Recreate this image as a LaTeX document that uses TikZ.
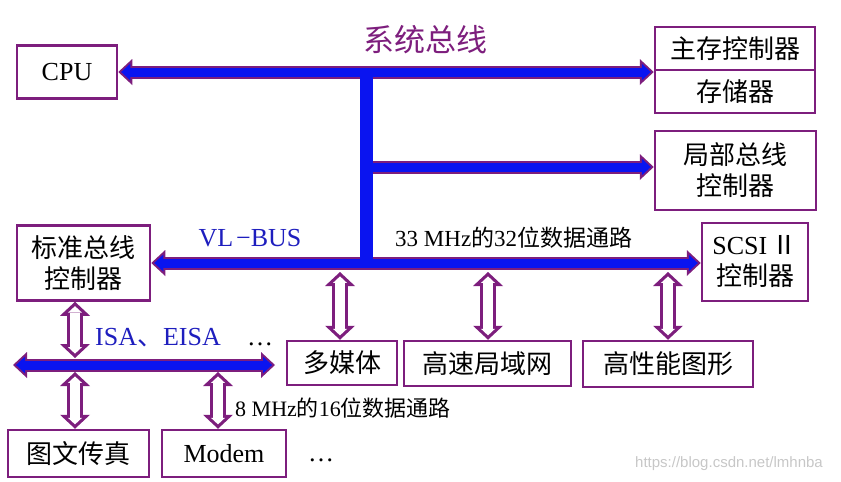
\documentclass[tikz,border=0pt]{standalone}
\usepackage{fontspec}
\setmainfont{Liberation Serif}
\newfontfamily\cjk{Noto Sans CJK SC}
\newfontfamily\wmfont{Liberation Sans}
\usetikzlibrary{arrows.meta,calc}
\definecolor{purp}{RGB}{125,30,125}
\definecolor{busblue}{RGB}{10,20,240}
\definecolor{txtblue}{RGB}{30,30,190}
\newcommand\fsz[2]{\fontsize{#1}{#2}\selectfont}
\begin{document}
\begin{tikzpicture}[x=1pt,y=-1pt,
  box/.style={draw=purp,line width=2.5pt,fill=white,inner sep=0pt,align=center,font=\fsz{26}{31}},
  cjkbox/.style={box,font=\fsz{26}{31}\cjk},
  busout/.style={draw=purp,line width=13pt,>={Triangle[length=14pt,width=26pt,line width=0pt]}},
  busin/.style={draw=busblue,line width=9pt,>={Triangle[length=9.06pt,width=16.8pt,line width=0pt]},shorten <=2.94pt,shorten >=2.94pt},
  hollowout/.style={draw=purp,line width=16pt,>={Triangle[length=14pt,width=30pt,line width=0pt]}},
  hollowin/.style={draw=white,line width=9.6pt,>={Triangle[length=6.4pt,width=13.7pt,line width=0pt]},shorten <=4.38pt,shorten >=4.38pt},
  lbl/.style={inner sep=0pt}
]
\useasboundingbox (0,0) rectangle (841,482);

% boxes
\node[box,minimum width=100pt,minimum height=53pt] (cpu) at (67,72) {CPU};
\node[cjkbox,minimum width=160pt,minimum height=43pt] (memctl) at (735,48.5) {主存控制器};
\node[cjkbox,minimum width=160pt,minimum height=43pt] (mem) at (735,91.5) {存储器};
\node[cjkbox,minimum width=161pt,minimum height=79pt] (local) at (735.5,170.5) {局部总线\\控制器};
\node[cjkbox,minimum width=133pt,minimum height=75pt] (std) at (83.5,263) {标准总线\\控制器};
\node[box,minimum width=106pt,minimum height=78pt] (scsi) at (755,262) {SCSI\,{\cjk Ⅱ}\\{\cjk 控制器}};
\node[cjkbox,minimum width=110pt,minimum height=44pt] (mm) at (342,363) {多媒体};
\node[cjkbox,minimum width=167pt,minimum height=45pt] (lan) at (487.5,363.5) {高速局域网};
\node[cjkbox,minimum width=170pt,minimum height=46pt] (gfx) at (668,364) {高性能图形};
\node[cjkbox,minimum width=141pt,minimum height=47pt] (fax) at (78.5,453.5) {图文传真};
\node[box,minimum width=124pt,minimum height=47pt] (modem) at (224,453.5) {Modem};

% coordinates
\coordinate (lb) at (367,167);
\coordinate (isaL) at (13,365);
\coordinate (isaR) at (275,365);
\coordinate (bt) at (366.5,76);
\coordinate (bb) at (366.5,259);
\coordinate (c1) at (75,0);
\coordinate (c2) at (218,0);
\coordinate (c3) at (340,0);
\coordinate (c4) at (488,0);
\coordinate (c5) at (668,0);
\coordinate (a1s) at ($(std.east -| c3)+(0,9)$);
\coordinate (a1e) at (mm.north -| c3);
\coordinate (a2s) at ($(std.east -| c4)+(0,9)$);
\coordinate (a2e) at (lan.north -| c4);
\coordinate (a3s) at ($(std.east -| c5)+(0,9)$);
\coordinate (a3e) at (gfx.north -| c5);
\coordinate (a4s) at (std.south -| c1);
\coordinate (a4e) at ($(isaL -| c1)+(0,-7)$);
\coordinate (a5s) at ($(isaL -| c1)+(0,7)$);
\coordinate (a5e) at (fax.north -| c1);
\coordinate (a6s) at ($(isaL -| c2)+(0,7)$);
\coordinate (a6e) at (modem.north -| c2);

% system bus
\draw[busout,<->] (cpu.east) -- (cpu.east -| memctl.west);
\draw[busin,<->] (cpu.east) -- (cpu.east -| memctl.west);
% local bus
\draw[busout,->] (lb) -- (lb -| local.west);
\draw[busin,->] (lb) -- (lb -| local.west);
% VL bus
\draw[busout,<->] (std.east) -- (std.east -| scsi.west);
\draw[busin,<->] (std.east) -- (std.east -| scsi.west);
% ISA bus
\draw[busout,<->] (isaL) -- (isaR);
\draw[busin,<->] (isaL) -- (isaR);
% vertical bar
\draw[busblue,line width=13pt] (bt) -- (bb);

% hollow arrows
\foreach \i in {1,...,6}{
  \draw[hollowout,<->] (a\i s) -- (a\i e);
  \draw[hollowin,<->] (a\i s) -- (a\i e);
}

% labels
\node[lbl,text=purp,font=\fsz{31}{36}\cjk] (title) at (425,40) {系统总线};
\node[lbl,text=txtblue,font=\fsz{26}{30}] (vllabel) at (250,238) {VL\hspace{3pt}−BUS};
\node[lbl,font=\fsz{23}{27},anchor=west] (speed32) at (395,238) {33 MHz{\cjk 的}32{\cjk 位数据通路}};
\node[lbl,text=txtblue,font=\fsz{26}{30},anchor=west] (isalabel) at (95,338) {ISA{\cjk 、}EISA};
\node[lbl,font=\fsz{26}{30},anchor=base west] (isadots) at (247,345) {…};
\node[lbl,font=\fsz{22}{26},anchor=west] (speed16) at (235,408) {8 MHz{\cjk 的}16{\cjk 位数据通路}};
\node[lbl,font=\fsz{26}{30},anchor=base west] (moredots) at (308,461) {…};
\node[lbl,text=black!22,font=\fsz{15}{18}\wmfont,anchor=west] (wm) at (635,464) {https://blog.csdn.net/lmhnba};
\end{tikzpicture}
\end{document}
